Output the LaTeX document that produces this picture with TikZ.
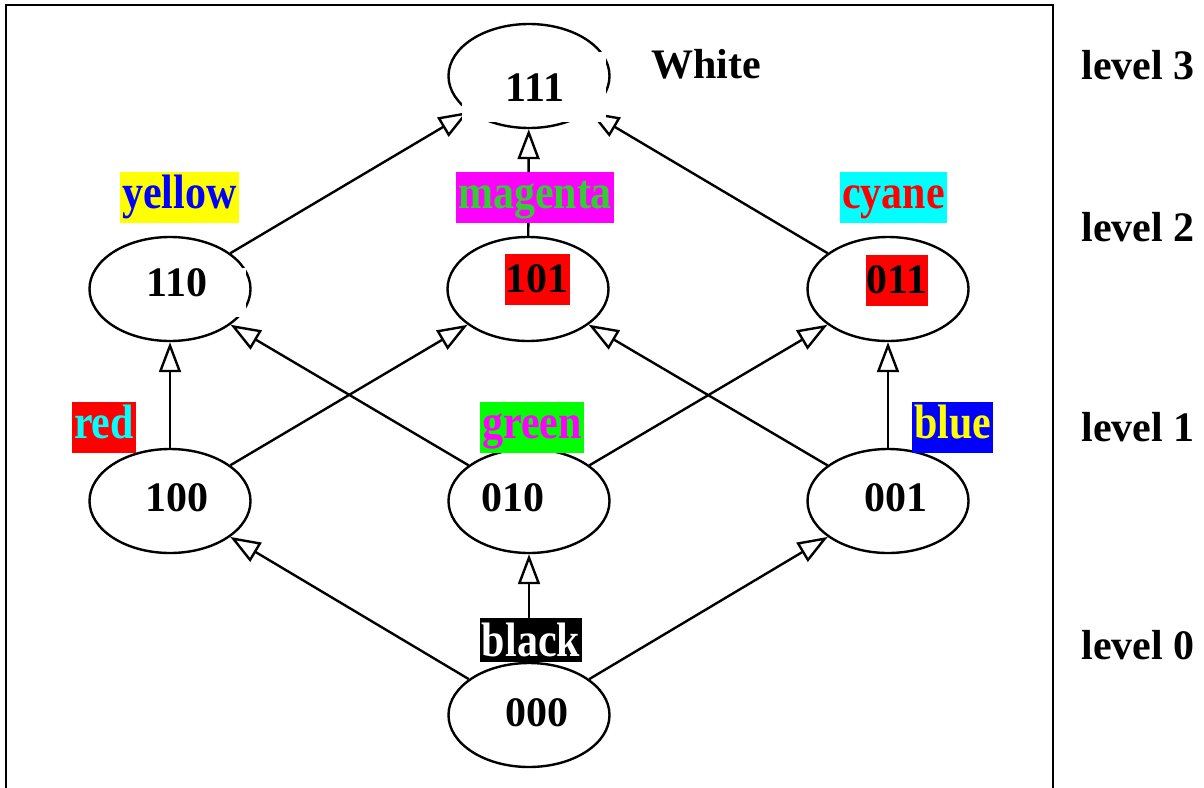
\documentclass[tikz,border=0pt]{standalone}
\usepackage{fontspec}
\setmainfont{Liberation Serif}
\usetikzlibrary{arrows.meta,shapes.geometric}
\definecolor{pYellow}{RGB}{255,255,0}
\definecolor{pBlue}{RGB}{0,0,255}
\definecolor{pMagenta}{RGB}{255,0,255}
\definecolor{pLime}{RGB}{50,205,50}
\definecolor{pCyan}{RGB}{0,255,255}
\definecolor{pRed}{RGB}{255,0,0}
\definecolor{pGreen}{RGB}{0,255,0}
\newcommand{\tagtall}[1]{\scalebox{1}[1.15]{#1}}
\begin{document}
\begin{tikzpicture}[x=0.5pt,y=-0.5pt,
        state/.style={draw,ellipse,line width=1.2pt,minimum width=80.5pt,minimum height=52pt,inner sep=0pt},
        digits/.style={font=\fontsize{21}{25}\selectfont\bfseries,inner sep=0pt},
        tag/.style={font=\fontsize{21}{25}\selectfont\bfseries,inner xsep=1pt,inner ysep=1.75pt,
            text height=16.6pt,text depth=5.4pt},
        level/.style={font=\fontsize{21}{25}\selectfont\bfseries,inner sep=0pt,anchor=base west},
        arc/.style={line width=1.2pt,-{Triangle[open,length=15pt,width=11pt]}}]
    \useasboundingbox (0,0) rectangle (1204,787);

    % frame
    \draw[line width=1pt] (6,790) -- (6,5) -- (1053,5) -- (1053,790);

    % lattice
    \node[state] (e111) at (529,76) {};
    \node[state] (e110) at (170,289) {};
    \node[state] (e101) at (528,289) {};
    \node[state] (e011) at (888,289) {};
    \node[state] (e100) at (170,501) {};
    \node[state] (e010) at (529,501) {};
    \node[state] (e001) at (888,501) {};
    \node[state] (e000) at (529,715) {};

    \draw[arc] (e110) -- (e111);
    \draw[arc] (e101) -- (e111);
    \draw[arc] (e011) -- (e111);
    \draw[arc] (e100) -- (e110);
    \draw[arc] (e100) -- (e101);
    \draw[arc] (e010) -- (e110);
    \draw[arc] (e010) -- (e011);
    \draw[arc] (e001) -- (e101);
    \draw[arc] (e001) -- (e011);
    \draw[arc] (e000) -- (e100);
    \draw[arc] (e000) -- (e010);
    \draw[arc] (e000) -- (e001);

    \fill[white] (462,52) rectangle (606,122);
    \fill[white] (142,268) rectangle (246,317);

    \node[digits] (d111) at (535,88) {111};
    \node[digits] (d110) at (177,283) {110};
    \node[digits,fill=pRed,inner xsep=0.5pt,minimum height=25.5pt] (d101) at (537,279) {101};
    \node[digits,fill=pRed,inner xsep=0.5pt,minimum height=25.5pt] (d011) at (897,280) {011};
    \node[digits] (d100) at (177,498) {100};
    \node[digits] (d010) at (513,498) {010};
    \node[digits] (d001) at (896,498) {001};
    \node[digits] (d000) at (537,713) {000};

    % colour names
    \node[tag,fill=pYellow,text=pBlue] (yellow) at (179.5,197.5) {\tagtall{yellow}};
    \node[tag,fill=pMagenta,text=pLime] (magenta) at (535,197.5) {\tagtall{magenta}};
    \node[tag,fill=pCyan,text=pRed] (cyane) at (893.5,197.5) {\tagtall{cyane}};
    \node[tag,fill=pRed,text=pCyan] (red) at (104,427.5) {\tagtall{red}};
    \node[tag,fill=pGreen,text=pMagenta] (green) at (532,427.5) {\tagtall{green}};
    \node[tag,fill=pBlue,text=pYellow] (blue) at (952.5,427.5) {\tagtall{blue}};
    \node[tag,fill=black,text=white,text depth=0pt,inner ysep=2.7pt] (black) at (531,640) {\tagtall{black}};
    \node[level] (white) at (651,78) {White};

    % levels
    \node[level] (lv3) at (1081,79) {level 3};
    \node[level] (lv2) at (1081,241) {level 2};
    \node[level] (lv1) at (1081,441) {level 1};
    \node[level] (lv0) at (1081,659) {level 0};
\end{tikzpicture}
\end{document}
